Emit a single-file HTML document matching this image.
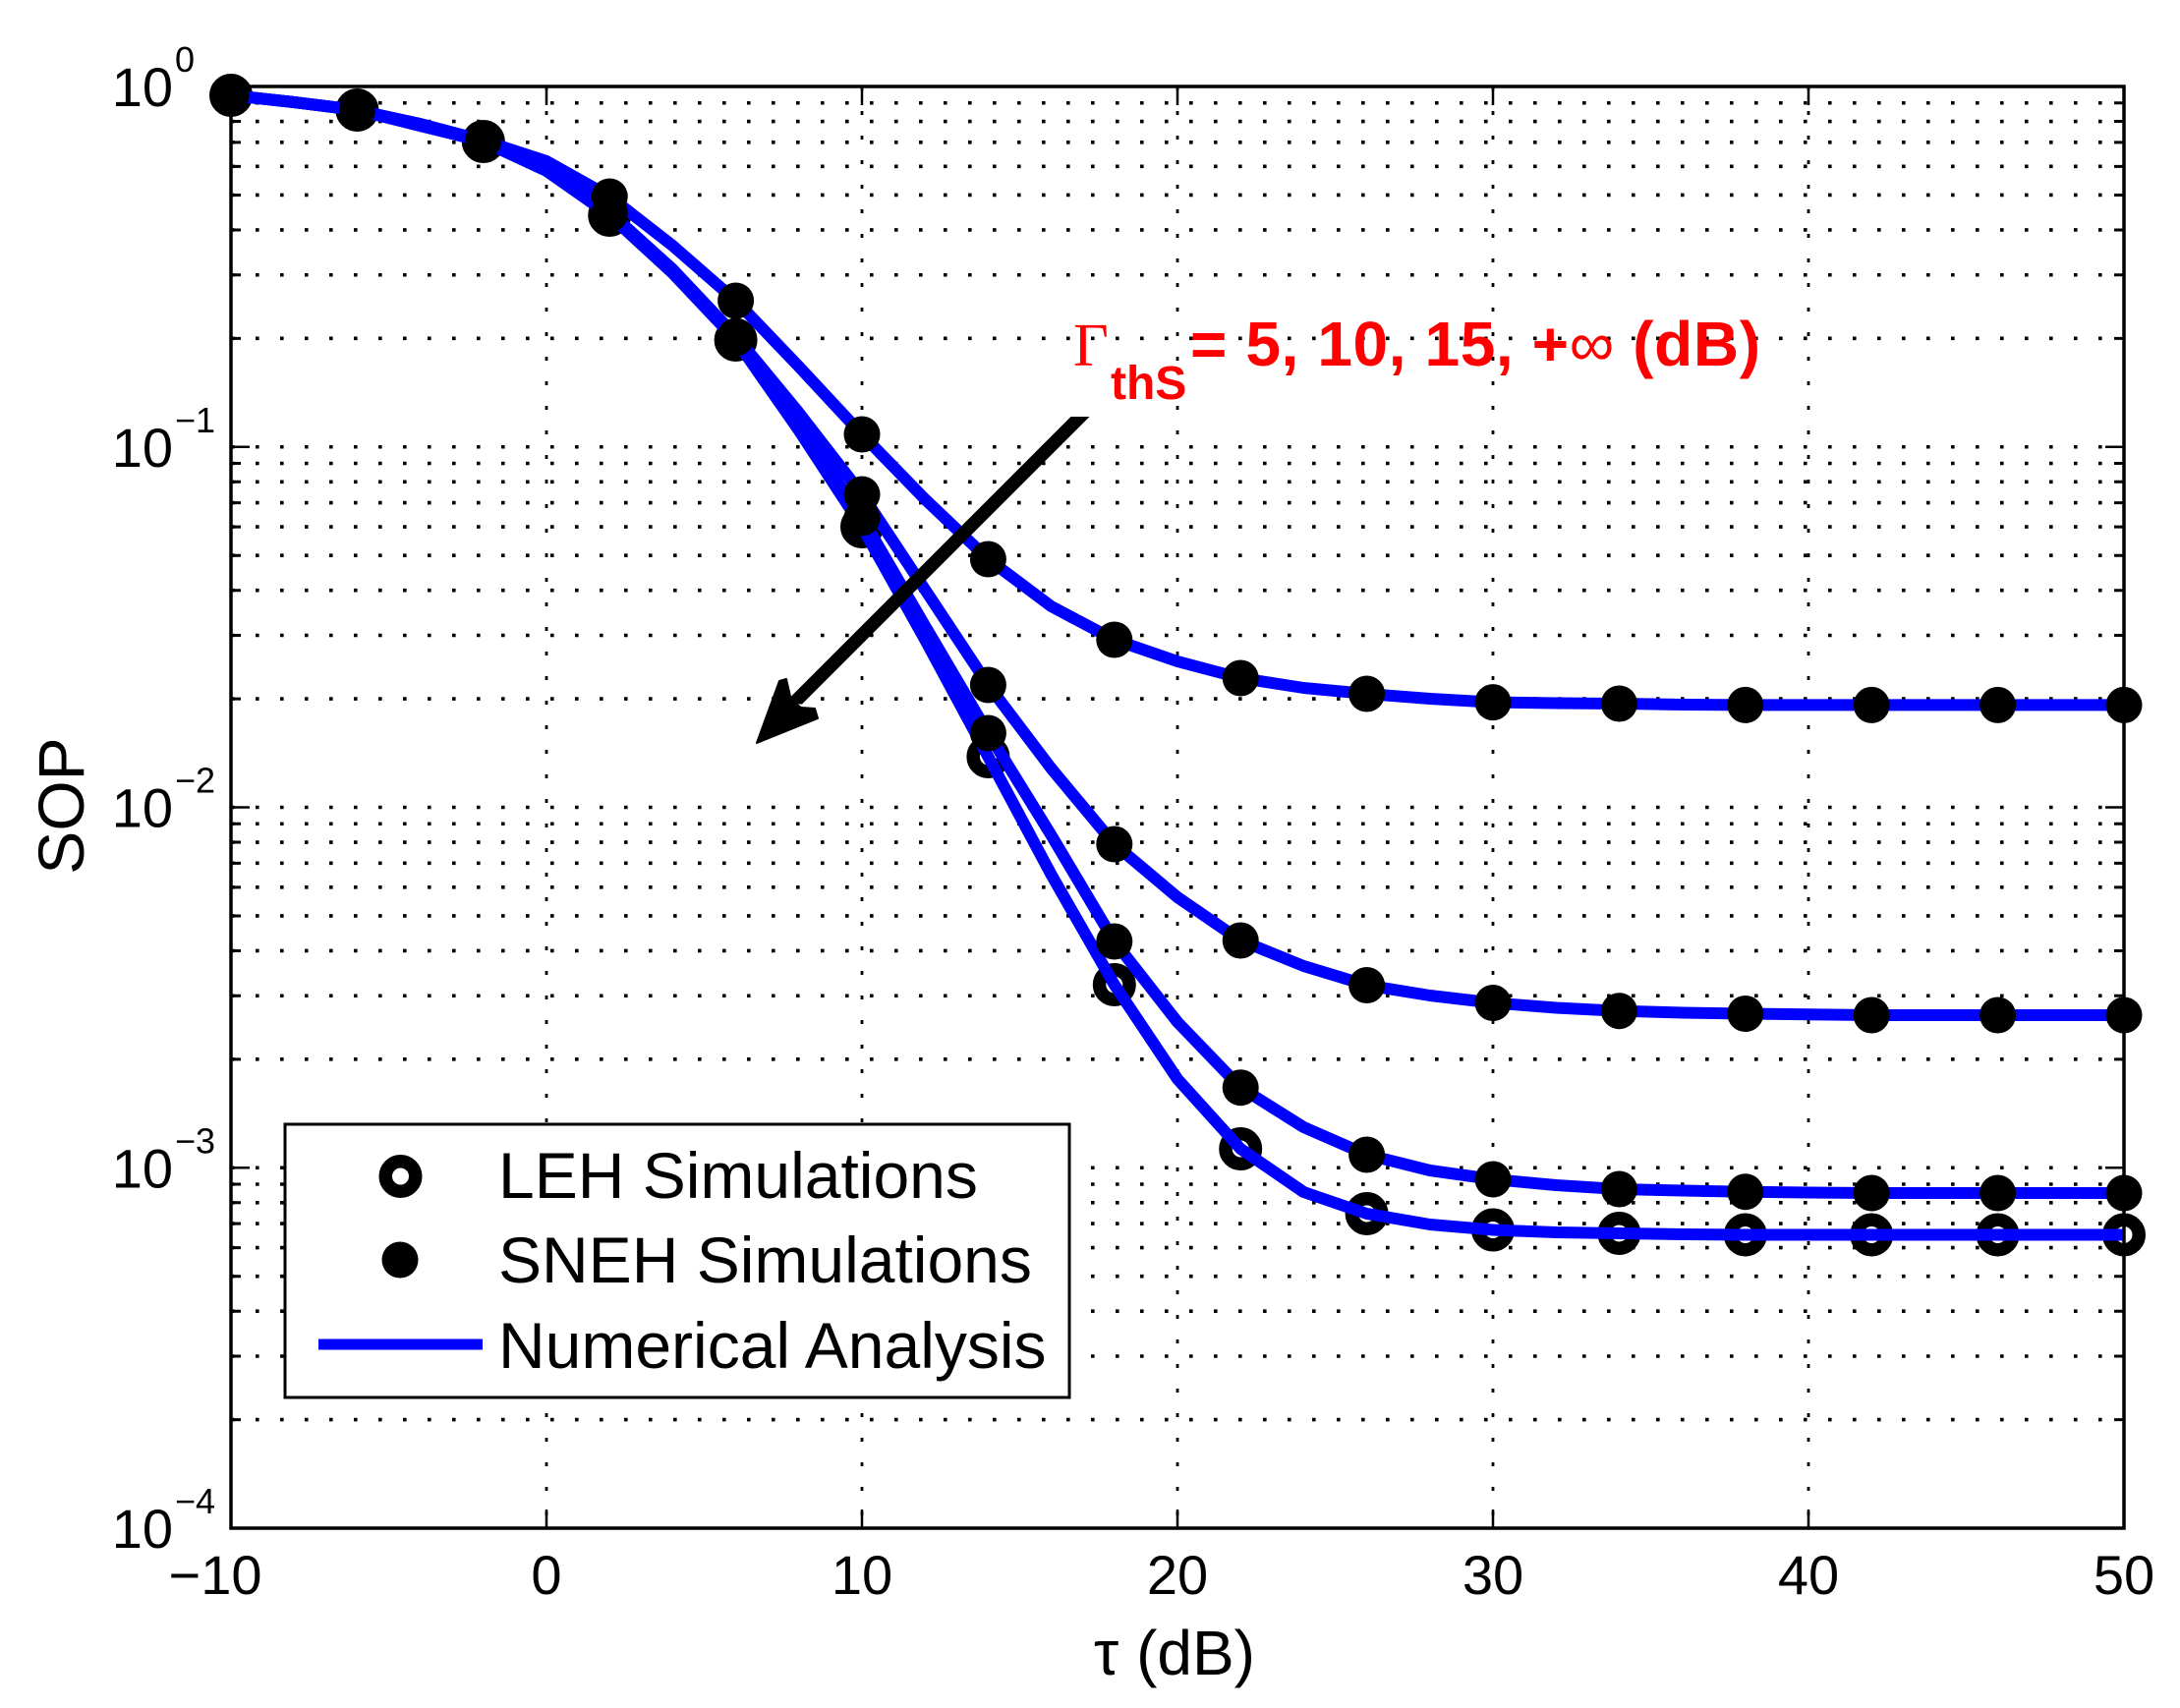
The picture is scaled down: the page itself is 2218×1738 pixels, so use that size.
<!DOCTYPE html>
<html>
<head>
<meta charset="utf-8">
<style>
html,body{margin:0;padding:0;background:#fff;}
svg{display:block;}
text{font-family:"Liberation Sans",Arial,sans-serif;fill:#000;}
</style>
</head>
<body>
<svg width="2218" height="1738" viewBox="0 0 2218 1738" xmlns="http://www.w3.org/2000/svg" xmlns:xlink="http://www.w3.org/1999/xlink">
<defs>
<circle id="o" r="15.25" fill="none" stroke="#000" stroke-width="13.5"/>
<circle id="f" r="18.5" fill="#000"/>
</defs>
<rect width="2218" height="1738" fill="#fff"/>
<g stroke="#000" stroke-width="3.6" stroke-dasharray="3.6 21.4" fill="none">
<path d="M235 104.75H2161M235 123.55H2161M235 144.85H2161M235 169.35H2161M235 198.45H2161M235 233.95H2161M235 279.75H2161M235 344.35H2161M235 454.75H2161M235 471.5H2161M235 490.3H2161M235 511.6H2161M235 536.1H2161M235 565.2H2161M235 600.7H2161M235 646.5H2161M235 711.1H2161M235 821.5H2161M235 838.25H2161M235 857.05H2161M235 878.35H2161M235 902.85H2161M235 931.95H2161M235 967.45H2161M235 1013.25H2161M235 1077.85H2161M235 1188.25H2161M235 1205H2161M235 1223.8H2161M235 1245.1H2161M235 1269.6H2161M235 1298.7H2161M235 1334.2H2161M235 1380H2161M235 1444.6H2161"/>
</g>
<path d="M556 88V1555M877 88V1555M1198 88V1555M1519 88V1555M1840 88V1555" stroke="#000" stroke-width="2.8" stroke-dasharray="4 21" fill="none"/>
<g>
<use xlink:href="#o" x="235" y="97"/><use xlink:href="#o" x="363.4" y="112"/><use xlink:href="#o" x="491.8" y="144"/><use xlink:href="#o" x="620.2" y="219"/><use xlink:href="#o" x="748.6" y="346"/><use xlink:href="#o" x="877" y="536"/><use xlink:href="#o" x="1005.4" y="770"/><use xlink:href="#o" x="1133.8" y="1002"/><use xlink:href="#o" x="1262.2" y="1169"/><use xlink:href="#o" x="1390.6" y="1235"/><use xlink:href="#o" x="1519" y="1251.5"/><use xlink:href="#o" x="1647.4" y="1255"/><use xlink:href="#o" x="1775.8" y="1256.5"/><use xlink:href="#o" x="1904.2" y="1256.5"/><use xlink:href="#o" x="2032.6" y="1256.5"/><use xlink:href="#o" x="2161" y="1256.5"/>
</g>
<g fill="none" stroke="#0000FF" stroke-width="12" stroke-linejoin="round">
<polyline points="235,97 299.2,104 363.4,112 427.6,126 491.8,143 556,164 620.2,200 684.4,250 748.6,306 812.8,373 877,442 941.2,508 1005.4,569 1069.6,617 1133.8,651 1198,673 1262.2,690 1326.4,700 1390.6,706 1454.8,711 1519,714.6 1583.2,715.5 1647.4,716 1711.6,717 1775.8,717.4 2161,717.4"/>
<polyline points="235,97 299.2,104 363.4,112 427.6,127 491.8,143 556,170 620.2,216 684.4,274 748.6,342 812.8,420 877,503 941.2,600 1005.4,697 1069.6,782 1133.8,859 1198,913 1262.2,957 1326.4,983 1390.6,1002.5 1454.8,1013 1519,1020.5 1583.2,1025.5 1647.4,1028.7 1711.6,1030.5 1775.8,1031.5 1840,1032.3 1904.2,1033 2161,1033"/>
<polyline points="235,97 299.2,104 363.4,112 427.6,128 491.8,143 556,172 620.2,218 684.4,276 748.6,344 812.8,432 877,527 941.2,637 1005.4,746 1069.6,850 1133.8,958 1198,1040 1262.2,1106.7 1326.4,1147 1390.6,1175 1454.8,1191 1519,1200 1583.2,1206 1647.4,1210 1711.6,1211.5 1775.8,1212.7 1840,1213.5 1904.2,1214 2161,1214"/>
<polyline points="235,97 299.2,104 363.4,112 427.6,128 491.8,144 556,174 620.2,219 684.4,278 748.6,346 812.8,438 877,536 941.2,651 1005.4,770 1069.6,890 1133.8,1002 1198,1098 1262.2,1169 1326.4,1213 1390.6,1235 1454.8,1246 1519,1251.5 1583.2,1254 1647.4,1255 1711.6,1256 1775.8,1256.5 2161,1256.5"/>
</g>
<g>
<use xlink:href="#f" x="235" y="97"/><use xlink:href="#f" x="363.4" y="112"/><use xlink:href="#f" x="491.8" y="143"/><use xlink:href="#f" x="620.2" y="200"/><use xlink:href="#f" x="748.6" y="306"/><use xlink:href="#f" x="877" y="442"/><use xlink:href="#f" x="1005.4" y="569"/><use xlink:href="#f" x="1133.8" y="651"/><use xlink:href="#f" x="1262.2" y="690"/><use xlink:href="#f" x="1390.6" y="706"/><use xlink:href="#f" x="1519" y="714.6"/><use xlink:href="#f" x="1647.4" y="716"/><use xlink:href="#f" x="1775.8" y="717.4"/><use xlink:href="#f" x="1904.2" y="717.4"/><use xlink:href="#f" x="2032.6" y="717.4"/><use xlink:href="#f" x="2161" y="717.4"/>
<use xlink:href="#f" x="620.2" y="216"/><use xlink:href="#f" x="748.6" y="342"/><use xlink:href="#f" x="877" y="503"/><use xlink:href="#f" x="1005.4" y="697"/><use xlink:href="#f" x="1133.8" y="859"/><use xlink:href="#f" x="1262.2" y="957"/><use xlink:href="#f" x="1390.6" y="1002.5"/><use xlink:href="#f" x="1519" y="1020.5"/><use xlink:href="#f" x="1647.4" y="1028.7"/><use xlink:href="#f" x="1775.8" y="1031.5"/><use xlink:href="#f" x="1904.2" y="1033"/><use xlink:href="#f" x="2032.6" y="1033"/><use xlink:href="#f" x="2161" y="1033"/>
<use xlink:href="#f" x="620.2" y="218"/><use xlink:href="#f" x="748.6" y="344"/><use xlink:href="#f" x="877" y="527"/><use xlink:href="#f" x="1005.4" y="746"/><use xlink:href="#f" x="1133.8" y="958"/><use xlink:href="#f" x="1262.2" y="1106.7"/><use xlink:href="#f" x="1390.6" y="1175"/><use xlink:href="#f" x="1519" y="1200"/><use xlink:href="#f" x="1647.4" y="1210"/><use xlink:href="#f" x="1775.8" y="1212.7"/><use xlink:href="#f" x="1904.2" y="1214"/><use xlink:href="#f" x="2032.6" y="1214"/><use xlink:href="#f" x="2161" y="1214"/>
</g>
<rect x="235" y="88" width="1926" height="1467" fill="none" stroke="#000" stroke-width="3.5"/>
<path d="M556 1555V1536M877 1555V1536M1198 1555V1536M1519 1555V1536M1840 1555V1536M556 88V107M877 88V107M1198 88V107M1519 88V107M1840 88V107M235 454.75H254M235 821.5H254M235 1188.25H254M2161 454.75H2142M2161 821.5H2142M2161 1188.25H2142" stroke="#000" stroke-width="2.5" fill="none"/>
<path d="M235 104.75h10M235 123.55h10M235 144.85h10M235 169.35h10M235 198.45h10M235 233.95h10M235 279.75h10M235 344.35h10M235 471.5h10M235 490.3h10M235 511.6h10M235 536.1h10M235 565.2h10M235 600.7h10M235 646.5h10M235 711.1h10M235 838.25h10M235 857.05h10M235 878.35h10M235 902.85h10M235 931.95h10M235 967.45h10M235 1013.25h10M235 1077.85h10M235 1205h10M235 1223.8h10M235 1245.1h10M235 1269.6h10M235 1298.7h10M235 1334.2h10M235 1380h10M235 1444.6h10M2161 104.75h-10M2161 123.55h-10M2161 144.85h-10M2161 169.35h-10M2161 198.45h-10M2161 233.95h-10M2161 279.75h-10M2161 344.35h-10M2161 471.5h-10M2161 490.3h-10M2161 511.6h-10M2161 536.1h-10M2161 565.2h-10M2161 600.7h-10M2161 646.5h-10M2161 711.1h-10M2161 838.25h-10M2161 857.05h-10M2161 878.35h-10M2161 902.85h-10M2161 931.95h-10M2161 967.45h-10M2161 1013.25h-10M2161 1077.85h-10M2161 1205h-10M2161 1223.8h-10M2161 1245.1h-10M2161 1269.6h-10M2161 1298.7h-10M2161 1334.2h-10M2161 1380h-10M2161 1444.6h-10" stroke="#000" stroke-width="3" fill="none"/>
<g font-size="56" text-anchor="end">
<text x="176" y="108">10</text><text x="176" y="474.75">10</text><text x="176" y="841.5">10</text><text x="176" y="1208.25">10</text><text x="176" y="1575">10</text>
</g>
<g font-size="36">
<text x="178" y="73">0</text><text x="178" y="439.75">−1</text><text x="178" y="806.5">−2</text><text x="178" y="1173.25">−3</text><text x="178" y="1540">−4</text>
</g>
<g font-size="56" text-anchor="middle">
<text x="219" y="1622">−10</text><text x="556" y="1622">0</text><text x="877" y="1622">10</text><text x="1198" y="1622">20</text><text x="1519" y="1622">30</text><text x="1840" y="1622">40</text><text x="2161" y="1622">50</text>
</g>
<text x="1195" y="1704" font-size="64" text-anchor="middle">τ (dB)</text>
<text x="85" y="820" font-size="66" text-anchor="middle" transform="rotate(-90 85 820)">SOP</text>
<rect x="290" y="1144" width="798" height="278" fill="#fff" stroke="#000" stroke-width="3"/>
<use xlink:href="#o" x="407.5" y="1197"/>
<use xlink:href="#f" x="407" y="1282"/>
<line x1="324" y1="1368" x2="491" y2="1368" stroke="#0000FF" stroke-width="11"/>
<g font-size="66">
<text x="507" y="1219">LEH Simulations</text>
<text x="507" y="1305">SNEH Simulations</text>
<text x="507" y="1392">Numerical Analysis</text>
</g>
<polygon points="1089.5,424 1108.5,424 816,716.5 797,716.5" fill="#000"/>
<polygon points="770,756 793,693 800,691 805,713 815,720 829,721 832,731" fill="#000" stroke="#000" stroke-width="2" stroke-linejoin="round"/>
<text x="1092" y="372" font-size="62" style="font-family:'Liberation Serif',serif;fill:#FF0000">Γ</text>
<text x="1130" y="406" font-size="48" font-weight="bold" style="fill:#FF0000">thS</text>
<text x="1211" y="372" font-size="64" font-weight="bold" style="fill:#FF0000" textLength="580" lengthAdjust="spacing">= 5, 10, 15, +<tspan font-weight="normal">∞</tspan> (dB)</text>
</svg>
</body>
</html>
